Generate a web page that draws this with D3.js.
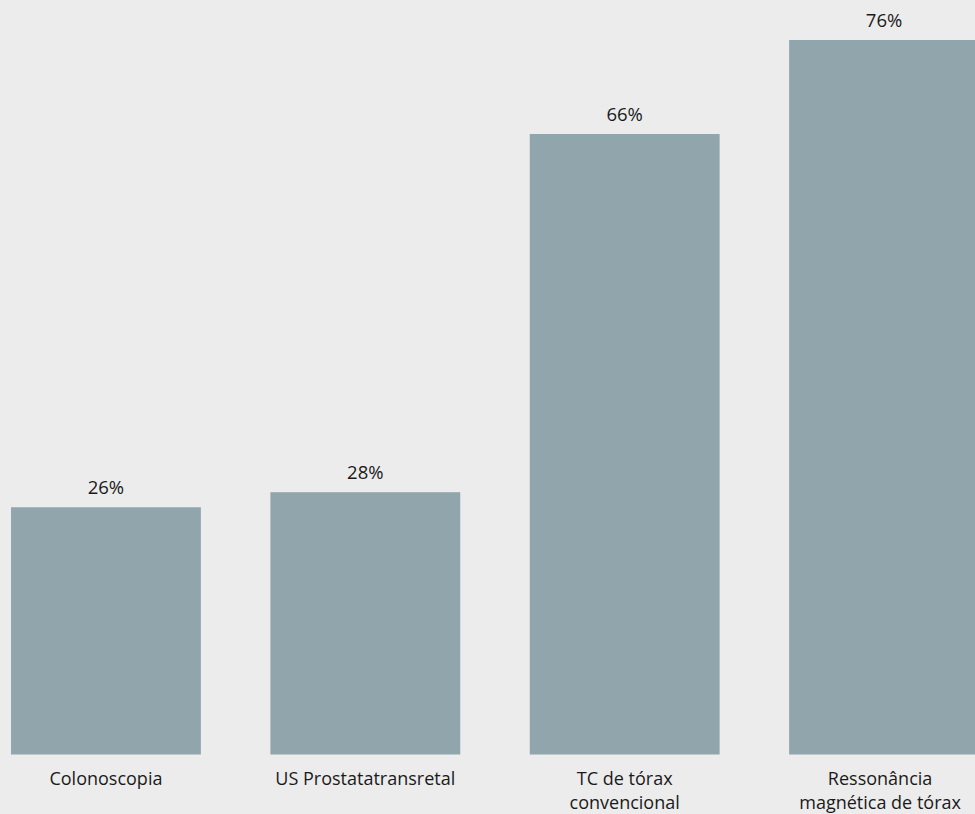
<!DOCTYPE html>
<html>
<head>
<meta charset="utf-8">
<script src="https://cdn.jsdelivr.net/npm/d3@7"></script>
<style>
  html, body { margin: 0; padding: 0; background: #ececec; }
  svg text { font-family: "Open Sans", "Noto Sans", sans-serif; fill: #1a1a1a; }
</style>
</head>
<body>
<div id="chart"></div>
<script>
const categories = [
  ['Colonoscopia'],
  ['US Prostatatransretal'],
  ['TC de tórax', 'convencional'],
  ['Ressonância', 'magnética de tórax']
];
const values = [26.3, 27.9, 66, 76];
const valueLabels = ['26%', '28%', '66%', '76%'];

const width = 975, height = 814;
const baseline = 754.5;

const svg = d3.select('#chart').append('svg')
  .attr('width', width)
  .attr('height', height)
  .style('display', 'block');

svg.append('rect').attr('width', width).attr('height', height).attr('fill', '#ececec');

const keys = categories.map((c) => c.join(' '));

// step ~259.5px, bar ~190px wide, first bar starts at x=11
const x = d3.scaleBand()
  .domain(keys)
  .range([11, 979])
  .paddingInner(0.268)
  .paddingOuter(0);

const y = d3.scaleLinear()
  .domain([0, 76])
  .range([baseline, 40]);

const g = svg.append('g');

g.selectAll('rect.bar')
  .data(values)
  .enter()
  .append('rect')
  .attr('class', 'bar')
  .attr('x', (d, i) => x(keys[i]))
  .attr('y', (d) => y(d))
  .attr('width', x.bandwidth())
  .attr('height', (d) => baseline - y(d))
  .attr('fill', '#91a6ac');

g.selectAll('text.val')
  .data(values)
  .enter()
  .append('text')
  .attr('class', 'val')
  .attr('x', (d, i) => x(keys[i]) + x.bandwidth() / 2)
  .attr('y', (d) => y(d) - 13)
  .attr('text-anchor', 'middle')
  .style('font-size', '18.5px')
  .text((d, i) => valueLabels[i]);

// category labels, one or two lines
const cat = g.selectAll('text.cat')
  .data(categories)
  .enter()
  .append('text')
  .attr('class', 'cat')
  .attr('text-anchor', 'middle')
  .style('font-size', '18px')
  .attr('transform', (d, i) => 'translate(' + (x(keys[i]) + x.bandwidth() / 2 - (i === 3 ? 4 : 0)) + ',785)');

cat.selectAll('tspan')
  .data((d) => d)
  .enter()
  .append('tspan')
  .attr('x', 0)
  .attr('y', (d, j) => j * 24)
  .text((d) => d);
</script>
</body>
</html>
